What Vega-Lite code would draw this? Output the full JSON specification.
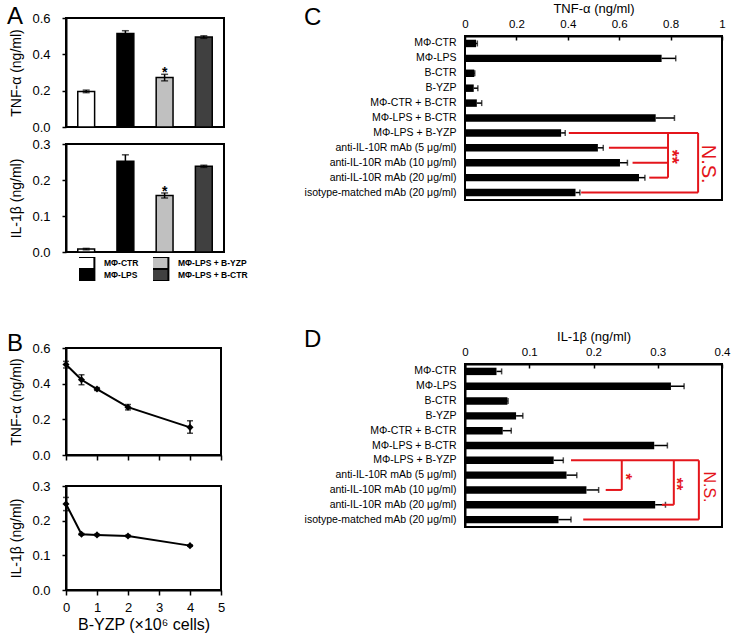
{
  "$schema": "https://vega.github.io/schema/vega-lite/v6.json",
  "background": "white",
  "padding": {"top": 2, "left": 5, "right": 5, "bottom": 5},
  "datasets": {
    "a_tnf": [
      {"group": "MΦ-CTR", "value": 0.196, "lo": 0.189, "hi": 0.203, "sig": ""},
      {"group": "MΦ-LPS", "value": 0.515, "lo": 0.5, "hi": 0.53, "sig": ""},
      {"group": "MΦ-LPS + B-YZP", "value": 0.272, "lo": 0.254, "hi": 0.29, "sig": "*"},
      {"group": "MΦ-LPS + B-CTR", "value": 0.495, "lo": 0.488, "hi": 0.502, "sig": ""}
    ],
    "a_il1b": [
      {"group": "MΦ-CTR", "value": 0.008, "lo": 0.006, "hi": 0.01, "sig": ""},
      {"group": "MΦ-LPS", "value": 0.252, "lo": 0.234, "hi": 0.27, "sig": ""},
      {"group": "MΦ-LPS + B-YZP", "value": 0.157, "lo": 0.15, "hi": 0.164, "sig": "*"},
      {"group": "MΦ-LPS + B-CTR", "value": 0.238, "lo": 0.235, "hi": 0.241, "sig": ""}
    ],
    "b_tnf": [
      {"cells": 0, "value": 0.507, "lo": 0.488, "hi": 0.525},
      {"cells": 0.5, "value": 0.422, "lo": 0.394, "hi": 0.45},
      {"cells": 1, "value": 0.37, "lo": 0.362, "hi": 0.378},
      {"cells": 2, "value": 0.268, "lo": 0.253, "hi": 0.283},
      {"cells": 4, "value": 0.155, "lo": 0.122, "hi": 0.192}
    ],
    "b_il1b": [
      {"cells": 0, "value": 0.248, "lo": 0.229, "hi": 0.267},
      {"cells": 0.5, "value": 0.161, "lo": 0.159, "hi": 0.163},
      {"cells": 1, "value": 0.159, "lo": 0.157, "hi": 0.161},
      {"cells": 2, "value": 0.156, "lo": 0.154, "hi": 0.158},
      {"cells": 4, "value": 0.128, "lo": 0.126, "hi": 0.13}
    ],
    "c_data": [
      {"cond": "MΦ-CTR", "value": 0.043, "hi": 0.048},
      {"cond": "MΦ-LPS", "value": 0.765, "hi": 0.82},
      {"cond": "B-CTR", "value": 0.036, "hi": 0.038},
      {"cond": "B-YZP", "value": 0.034, "hi": 0.05},
      {"cond": "MΦ-CTR + B-CTR", "value": 0.046, "hi": 0.065},
      {"cond": "MΦ-LPS + B-CTR", "value": 0.742, "hi": 0.815},
      {"cond": "MΦ-LPS + B-YZP", "value": 0.374, "hi": 0.39},
      {"cond": "anti-IL-10R mAb (5 μg/ml)", "value": 0.517, "hi": 0.538},
      {"cond": "anti-IL-10R mAb (10 μg/ml)", "value": 0.603, "hi": 0.632},
      {"cond": "anti-IL-10R mAb (20 μg/ml)", "value": 0.677, "hi": 0.7},
      {"cond": "isotype-matched mAb (20 μg/ml)", "value": 0.43, "hi": 0.447}
    ],
    "c_br": [
      {"x1": 0.404, "x2": 0.907, "r1": 7, "r2": 7},
      {"x1": 0.79, "x2": 0.79, "r1": 7, "r2": 10},
      {"x1": 0.56, "x2": 0.79, "r1": 8, "r2": 8},
      {"x1": 0.652, "x2": 0.79, "r1": 9, "r2": 9},
      {"x1": 0.717, "x2": 0.79, "r1": 10, "r2": 10},
      {"x1": 0.907, "x2": 0.907, "r1": 7, "r2": 11},
      {"x1": 0.452, "x2": 0.907, "r1": 11, "r2": 11}
    ],
    "c_txt": [
      {"label": "**", "x": 0.802, "r": 8.6},
      {"label": "N.S.", "x": 0.944, "r": 9.1}
    ],
    "d_data": [
      {"cond": "MΦ-CTR", "value": 0.049, "hi": 0.057},
      {"cond": "MΦ-LPS", "value": 0.3205, "hi": 0.341},
      {"cond": "B-CTR", "value": 0.066, "hi": 0.067},
      {"cond": "B-YZP", "value": 0.0795, "hi": 0.09},
      {"cond": "MΦ-CTR + B-CTR", "value": 0.0587, "hi": 0.072},
      {"cond": "MΦ-LPS + B-CTR", "value": 0.2945, "hi": 0.315},
      {"cond": "MΦ-LPS + B-YZP", "value": 0.138, "hi": 0.153},
      {"cond": "anti-IL-10R mAb (5 μg/ml)", "value": 0.158, "hi": 0.174},
      {"cond": "anti-IL-10R mAb (10 μg/ml)", "value": 0.189, "hi": 0.208},
      {"cond": "anti-IL-10R mAb (20 μg/ml)", "value": 0.296, "hi": 0.312},
      {"cond": "isotype-matched mAb (20 μg/ml)", "value": 0.1455, "hi": 0.165}
    ],
    "d_br": [
      {"x1": 0.165, "x2": 0.364, "r1": 7, "r2": 7},
      {"x1": 0.244, "x2": 0.244, "r1": 7, "r2": 9},
      {"x1": 0.219, "x2": 0.244, "r1": 9, "r2": 9},
      {"x1": 0.325, "x2": 0.325, "r1": 7, "r2": 10},
      {"x1": 0.3065, "x2": 0.325, "r1": 10, "r2": 10},
      {"x1": 0.364, "x2": 0.364, "r1": 7, "r2": 11},
      {"x1": 0.184, "x2": 0.364, "r1": 11, "r2": 11}
    ],
    "d_txt": [
      {"label": "*", "x": 0.249, "r": 8.1},
      {"label": "**", "x": 0.328, "r": 8.6},
      {"label": "N.S.", "x": 0.38, "r": 8.8}
    ]
  },
  "columns": 2,
  "align": "none",
  "spacing": 41,
  "concat": [
    {
      "spacing": 36,
      "vconcat": [
        {
          "spacing": 2,
          "resolve": {"scale": {"fill": "independent"}, "legend": {"fill": "independent"}},
          "vconcat": [
            {
              "width": 158, "height": 109,
              "title": {"text": "A", "dx": -3, "dy": 21},
              "data": {"name": "a_tnf"},
              "encoding": {"x": {"field": "group", "type": "nominal", "sort": ["MΦ-CTR", "MΦ-LPS", "MΦ-LPS + B-YZP", "MΦ-LPS + B-CTR"], "axis": null, "scale": {"paddingInner": 0.57, "paddingOuter": 0.3}}},
              "layer": [
                {"mark": {"type": "bar", "stroke": "black", "strokeWidth": 1.5},
                 "encoding": {
                   "y": {"field": "value", "type": "quantitative", "scale": {"domain": [0, 0.6]}, "axis": {"title": "TNF-α (ng/ml)", "values": [0, 0.2, 0.4, 0.6], "format": ".1f", "labelFontSize": 13, "titleFontSize": 14, "tickSize": 4, "labelPadding": 12, "titlePadding": 8}},
                   "fill": {"field": "group", "type": "nominal", "scale": {"domain": ["MΦ-CTR", "MΦ-LPS + B-YZP", "MΦ-LPS", "MΦ-LPS + B-CTR"], "range": ["white", "#c0c0c0", "black", "#404040"]}, "legend": null}
                 }},
                {"mark": {"type": "rule", "color": "black", "strokeWidth": 1.5}, "encoding": {"y": {"field": "lo", "type": "quantitative", "axis": {"title": "TNF-α (ng/ml)", "values": [0, 0.2, 0.4, 0.6], "format": ".1f", "labelFontSize": 13, "titleFontSize": 14, "tickSize": 4, "labelPadding": 12, "titlePadding": 8}}, "y2": {"field": "hi"}}},
                {"mark": {"type": "tick", "color": "black", "thickness": 1.5, "size": 7, "orient": "horizontal"}, "encoding": {"y": {"field": "hi", "type": "quantitative", "axis": {"title": "TNF-α (ng/ml)", "values": [0, 0.2, 0.4, 0.6], "format": ".1f", "labelFontSize": 13, "titleFontSize": 14, "tickSize": 4, "labelPadding": 12, "titlePadding": 8}}}},
                {"mark": {"type": "tick", "color": "black", "thickness": 1.5, "size": 7, "orient": "horizontal"}, "encoding": {"y": {"field": "lo", "type": "quantitative", "axis": {"title": "TNF-α (ng/ml)", "values": [0, 0.2, 0.4, 0.6], "format": ".1f", "labelFontSize": 13, "titleFontSize": 14, "tickSize": 4, "labelPadding": 12, "titlePadding": 8}}}},
                {"mark": {"type": "text", "fontSize": 14, "fontWeight": "bold", "baseline": "alphabetic", "dy": 3, "color": "black"}, "encoding": {"y": {"field": "hi", "type": "quantitative", "axis": {"title": "TNF-α (ng/ml)", "values": [0, 0.2, 0.4, 0.6], "format": ".1f", "labelFontSize": 13, "titleFontSize": 14, "tickSize": 4, "labelPadding": 12, "titlePadding": 8}}, "text": {"field": "sig"}}}
              ]
            },
            {
              "width": 158, "height": 108,
              "data": {"name": "a_il1b"},
              "encoding": {"x": {"field": "group", "type": "nominal", "sort": ["MΦ-CTR", "MΦ-LPS", "MΦ-LPS + B-YZP", "MΦ-LPS + B-CTR"], "axis": null, "scale": {"paddingInner": 0.57, "paddingOuter": 0.3}}},
              "layer": [
                {"mark": {"type": "bar", "stroke": "black", "strokeWidth": 1.5},
                 "encoding": {
                   "y": {"field": "value", "type": "quantitative", "scale": {"domain": [0, 0.3]}, "axis": {"title": "IL-1β (ng/ml)", "values": [0, 0.1, 0.2, 0.3], "format": ".1f", "labelFontSize": 13, "titleFontSize": 14, "tickSize": 4, "labelPadding": 12, "titlePadding": 8}},
                   "fill": {"field": "group", "type": "nominal", "scale": {"domain": ["MΦ-CTR", "MΦ-LPS + B-YZP", "MΦ-LPS", "MΦ-LPS + B-CTR"], "range": ["white", "#c0c0c0", "black", "#404040"]},
                     "legend": {"title": null, "orient": "bottom", "columns": 2, "symbolType": "M-1.4,-1H1.4V1H-1.4Z", "symbolSize": 144, "symbolStrokeColor": "black", "symbolStrokeWidth": 2, "labelFontSize": 8.5, "labelFontWeight": "bold", "labelColor": "black", "labelOffset": 11, "rowPadding": 0, "clipHeight": 12, "columnPadding": 14, "offset": -8, "padding": 13}}
                 }},
                {"mark": {"type": "rule", "color": "black", "strokeWidth": 1.5}, "encoding": {"y": {"field": "lo", "type": "quantitative", "axis": {"title": "IL-1β (ng/ml)", "values": [0, 0.1, 0.2, 0.3], "format": ".1f", "labelFontSize": 13, "titleFontSize": 14, "tickSize": 4, "labelPadding": 12, "titlePadding": 8}}, "y2": {"field": "hi"}}},
                {"mark": {"type": "tick", "color": "black", "thickness": 1.5, "size": 7, "orient": "horizontal"}, "encoding": {"y": {"field": "hi", "type": "quantitative", "axis": {"title": "IL-1β (ng/ml)", "values": [0, 0.1, 0.2, 0.3], "format": ".1f", "labelFontSize": 13, "titleFontSize": 14, "tickSize": 4, "labelPadding": 12, "titlePadding": 8}}}},
                {"mark": {"type": "tick", "color": "black", "thickness": 1.5, "size": 7, "orient": "horizontal"}, "encoding": {"y": {"field": "lo", "type": "quantitative", "axis": {"title": "IL-1β (ng/ml)", "values": [0, 0.1, 0.2, 0.3], "format": ".1f", "labelFontSize": 13, "titleFontSize": 14, "tickSize": 4, "labelPadding": 12, "titlePadding": 8}}}},
                {"mark": {"type": "text", "fontSize": 14, "fontWeight": "bold", "baseline": "alphabetic", "dy": 3, "color": "black"}, "encoding": {"y": {"field": "hi", "type": "quantitative", "axis": {"title": "IL-1β (ng/ml)", "values": [0, 0.1, 0.2, 0.3], "format": ".1f", "labelFontSize": 13, "titleFontSize": 14, "tickSize": 4, "labelPadding": 12, "titlePadding": 8}}, "text": {"field": "sig"}}}
              ]
            }
          ]
        },
        {
          "spacing": 16,
          "vconcat": [
            {
              "width": 155, "height": 107,
              "title": {"text": "B", "dx": -3, "dy": 18},
              "data": {"name": "b_tnf"},
              "encoding": {"x": {"field": "cells", "type": "quantitative", "scale": {"domain": [0, 5]}, "axis": {"values": [0, 1, 2, 3, 4, 5], "labels": false, "tickSize": 5, "title": null}}},
              "layer": [
                {"mark": {"type": "line", "color": "black", "strokeWidth": 2},
                 "encoding": {"y": {"field": "value", "type": "quantitative", "scale": {"domain": [0, 0.6]}, "axis": {"title": "TNF-α (ng/ml)", "values": [0, 0.2, 0.4, 0.6], "format": ".1f", "labelFontSize": 13, "titleFontSize": 14, "tickSize": 4, "labelPadding": 12, "titlePadding": 8}}}},
                {"mark": {"type": "rule", "color": "black", "strokeWidth": 1.5}, "encoding": {"y": {"field": "lo", "type": "quantitative", "axis": {"title": "TNF-α (ng/ml)", "values": [0, 0.2, 0.4, 0.6], "format": ".1f", "labelFontSize": 13, "titleFontSize": 14, "tickSize": 4, "labelPadding": 12, "titlePadding": 8}}, "y2": {"field": "hi"}}},
                {"mark": {"type": "tick", "color": "black", "thickness": 1.5, "size": 6, "orient": "horizontal"}, "encoding": {"y": {"field": "hi", "type": "quantitative", "axis": {"title": "TNF-α (ng/ml)", "values": [0, 0.2, 0.4, 0.6], "format": ".1f", "labelFontSize": 13, "titleFontSize": 14, "tickSize": 4, "labelPadding": 12, "titlePadding": 8}}}},
                {"mark": {"type": "tick", "color": "black", "thickness": 1.5, "size": 6, "orient": "horizontal"}, "encoding": {"y": {"field": "lo", "type": "quantitative", "axis": {"title": "TNF-α (ng/ml)", "values": [0, 0.2, 0.4, 0.6], "format": ".1f", "labelFontSize": 13, "titleFontSize": 14, "tickSize": 4, "labelPadding": 12, "titlePadding": 8}}}},
                {"mark": {"type": "point", "shape": "diamond", "filled": true, "color": "black", "size": 50, "opacity": 1}, "encoding": {"y": {"field": "value", "type": "quantitative", "axis": {"title": "TNF-α (ng/ml)", "values": [0, 0.2, 0.4, 0.6], "format": ".1f", "labelFontSize": 13, "titleFontSize": 14, "tickSize": 4, "labelPadding": 12, "titlePadding": 8}}}}
              ]
            },
            {
              "width": 155, "height": 104,
              "data": {"name": "b_il1b"},
              "encoding": {"x": {"field": "cells", "type": "quantitative", "scale": {"domain": [0, 5]}, "axis": {"values": [0, 1, 2, 3, 4, 5], "tickSize": 5, "labelFontSize": 13, "labelFlush": false, "labelPadding": 6, "title": "B-YZP (×10⁶ cells)", "titleFontSize": 16, "titlePadding": 2}}},
              "layer": [
                {"mark": {"type": "line", "color": "black", "strokeWidth": 2},
                 "encoding": {"y": {"field": "value", "type": "quantitative", "scale": {"domain": [0, 0.3]}, "axis": {"title": "IL-1β (ng/ml)", "values": [0, 0.1, 0.2, 0.3], "format": ".1f", "labelFontSize": 13, "titleFontSize": 14, "tickSize": 4, "labelPadding": 12, "titlePadding": 8}}}},
                {"mark": {"type": "rule", "color": "black", "strokeWidth": 1.5}, "encoding": {"y": {"field": "lo", "type": "quantitative", "axis": {"title": "IL-1β (ng/ml)", "values": [0, 0.1, 0.2, 0.3], "format": ".1f", "labelFontSize": 13, "titleFontSize": 14, "tickSize": 4, "labelPadding": 12, "titlePadding": 8}}, "y2": {"field": "hi"}}},
                {"mark": {"type": "tick", "color": "black", "thickness": 1.5, "size": 6, "orient": "horizontal"}, "encoding": {"y": {"field": "hi", "type": "quantitative", "axis": {"title": "IL-1β (ng/ml)", "values": [0, 0.1, 0.2, 0.3], "format": ".1f", "labelFontSize": 13, "titleFontSize": 14, "tickSize": 4, "labelPadding": 12, "titlePadding": 8}}}},
                {"mark": {"type": "tick", "color": "black", "thickness": 1.5, "size": 6, "orient": "horizontal"}, "encoding": {"y": {"field": "lo", "type": "quantitative", "axis": {"title": "IL-1β (ng/ml)", "values": [0, 0.1, 0.2, 0.3], "format": ".1f", "labelFontSize": 13, "titleFontSize": 14, "tickSize": 4, "labelPadding": 12, "titlePadding": 8}}}},
                {"mark": {"type": "point", "shape": "diamond", "filled": true, "color": "black", "size": 50, "opacity": 1}, "encoding": {"y": {"field": "value", "type": "quantitative", "axis": {"title": "IL-1β (ng/ml)", "values": [0, 0.1, 0.2, 0.3], "format": ".1f", "labelFontSize": 13, "titleFontSize": 14, "tickSize": 4, "labelPadding": 12, "titlePadding": 8}}}}
              ]
            }
          ]
        }
      ]
    },
    {
      "spacing": 126,
      "vconcat": [
        {
          "width": 257, "height": 182,
          "view": {"stroke": null},
          "title": {"text": "C", "dx": 0, "dy": 32},
          "layer": [
            {
              "data": {"name": "c_data"},
              "encoding": {"y": {"field": "cond", "type": "nominal", "sort": null, "scale": {"paddingInner": 0.5, "paddingOuter": 0.8537, "align": 0.8537}, "axis": {"title": null, "ticks": false, "domain": false, "labelFontSize": 10.5, "labelPadding": 9, "labelColor": "black", "labelLimit": 0}}},
              "layer": [
                {"mark": {"type": "bar", "color": "black"},
                 "encoding": {"x": {"field": "value", "type": "quantitative", "scale": {"domain": [0, 1]}, "axis": {"orient": "top", "offset": -18, "title": "TNF-α (ng/ml)", "values": [0, 0.2, 0.4, 0.6, 0.8, 1], "format": "~g", "labelFontSize": 11.5, "titleFontSize": 13, "tickSize": -4, "labelPadding": 11, "titlePadding": 3, "labelFlush": false}}}},
                {"mark": {"type": "rule", "color": "black", "strokeWidth": 1.5}, "encoding": {"x": {"field": "value", "type": "quantitative", "axis": {"orient": "top", "offset": -18, "title": "TNF-α (ng/ml)", "values": [0, 0.2, 0.4, 0.6, 0.8, 1], "format": "~g", "labelFontSize": 11.5, "titleFontSize": 13, "tickSize": -4, "labelPadding": 11, "titlePadding": 3, "labelFlush": false}}, "x2": {"field": "hi"}}},
                {"mark": {"type": "tick", "color": "black", "thickness": 1.5, "size": 6}, "encoding": {"x": {"field": "hi", "type": "quantitative", "axis": {"orient": "top", "offset": -18, "title": "TNF-α (ng/ml)", "values": [0, 0.2, 0.4, 0.6, 0.8, 1], "format": "~g", "labelFontSize": 11.5, "titleFontSize": 13, "tickSize": -4, "labelPadding": 11, "titlePadding": 3, "labelFlush": false}}}}
              ]
            },
            {
              "data": {"values": [{"panel": "C"}]},
              "mark": {"type": "rect", "filled": false, "color": "black", "strokeWidth": 2},
              "encoding": {
                "x": {"datum": 0, "type": "quantitative", "axis": {"orient": "top", "offset": -18, "title": "TNF-α (ng/ml)", "values": [0, 0.2, 0.4, 0.6, 0.8, 1], "format": "~g", "labelFontSize": 11.5, "titleFontSize": 13, "tickSize": -4, "labelPadding": 11, "titlePadding": 3, "labelFlush": false}},
                "x2": {"datum": 1},
                "y": {"datum": 0.5, "type": "quantitative", "scale": {"domain": [-0.7073, 11.5], "reverse": true, "nice": false, "zero": false}, "axis": null},
                "y2": {"datum": 11.5}
              }
            },
            {
              "data": {"name": "c_br"},
              "mark": {"type": "rule", "color": "#e4151b", "strokeWidth": 2},
              "encoding": {
                "x": {"field": "x1", "type": "quantitative", "axis": {"orient": "top", "offset": -18, "title": "TNF-α (ng/ml)", "values": [0, 0.2, 0.4, 0.6, 0.8, 1], "format": "~g", "labelFontSize": 11.5, "titleFontSize": 13, "tickSize": -4, "labelPadding": 11, "titlePadding": 3, "labelFlush": false}},
                "x2": {"field": "x2"},
                "y": {"field": "r1", "type": "quantitative", "scale": {"domain": [-0.7073, 11.5], "reverse": true, "nice": false, "zero": false}, "axis": null},
                "y2": {"field": "r2"}
              }
            },
            {
              "data": {"name": "c_txt"},
              "transform": [{"filter": "datum.label == '**'"}],
              "mark": {"type": "text", "angle": 90, "color": "#e4151b", "fontSize": 18, "fontWeight": "bold", "align": "center", "baseline": "middle"},
              "encoding": {
                "x": {"field": "x", "type": "quantitative", "axis": {"orient": "top", "offset": -18, "title": "TNF-α (ng/ml)", "values": [0, 0.2, 0.4, 0.6, 0.8, 1], "format": "~g", "labelFontSize": 11.5, "titleFontSize": 13, "tickSize": -4, "labelPadding": 11, "titlePadding": 3, "labelFlush": false}},
                "y": {"field": "r", "type": "quantitative", "scale": {"domain": [-0.7073, 11.5], "reverse": true, "nice": false, "zero": false}, "axis": null},
                "text": {"field": "label"}
              }
            },
            {
              "data": {"name": "c_txt"},
              "transform": [{"filter": "datum.label == 'N.S.'"}],
              "mark": {"type": "text", "angle": 90, "color": "#e4151b", "fontSize": 20, "align": "center", "baseline": "middle"},
              "encoding": {
                "x": {"field": "x", "type": "quantitative", "axis": {"orient": "top", "offset": -18, "title": "TNF-α (ng/ml)", "values": [0, 0.2, 0.4, 0.6, 0.8, 1], "format": "~g", "labelFontSize": 11.5, "titleFontSize": 13, "tickSize": -4, "labelPadding": 11, "titlePadding": 3, "labelFlush": false}},
                "y": {"field": "r", "type": "quantitative", "scale": {"domain": [-0.7073, 11.5], "reverse": true, "nice": false, "zero": false}, "axis": null},
                "text": {"field": "label"}
              }
            }
          ],
          "resolve": {"scale": {"y": "independent"}}
        },
        {
          "width": 257, "height": 163,
          "title": {"text": "D", "dx": 0, "dy": 26},
          "layer": [
            {
              "data": {"name": "d_data"},
              "encoding": {"y": {"field": "cond", "type": "nominal", "sort": null, "scale": {"paddingInner": 0.5, "paddingOuter": 0.25}, "axis": {"title": null, "ticks": false, "labelFontSize": 10.5, "labelPadding": 9, "labelColor": "black", "labelLimit": 0}}},
              "layer": [
                {"mark": {"type": "bar", "color": "black"},
                 "encoding": {"x": {"field": "value", "type": "quantitative", "scale": {"domain": [0, 0.4]}, "axis": {"orient": "top", "title": "IL-1β (ng/ml)", "values": [0, 0.1, 0.2, 0.3, 0.4], "format": "~g", "labelFontSize": 11.5, "titleFontSize": 13, "tickSize": -4, "labelPadding": 11, "titlePadding": 3, "labelFlush": false}}}},
                {"mark": {"type": "rule", "color": "black", "strokeWidth": 1.5}, "encoding": {"x": {"field": "value", "type": "quantitative", "axis": {"orient": "top", "title": "IL-1β (ng/ml)", "values": [0, 0.1, 0.2, 0.3, 0.4], "format": "~g", "labelFontSize": 11.5, "titleFontSize": 13, "tickSize": -4, "labelPadding": 11, "titlePadding": 3, "labelFlush": false}}, "x2": {"field": "hi"}}},
                {"mark": {"type": "tick", "color": "black", "thickness": 1.5, "size": 6}, "encoding": {"x": {"field": "hi", "type": "quantitative", "axis": {"orient": "top", "title": "IL-1β (ng/ml)", "values": [0, 0.1, 0.2, 0.3, 0.4], "format": "~g", "labelFontSize": 11.5, "titleFontSize": 13, "tickSize": -4, "labelPadding": 11, "titlePadding": 3, "labelFlush": false}}}}
              ]
            },
            {
              "data": {"name": "d_br"},
              "mark": {"type": "rule", "color": "#e4151b", "strokeWidth": 2},
              "encoding": {
                "x": {"field": "x1", "type": "quantitative", "axis": {"orient": "top", "title": "IL-1β (ng/ml)", "values": [0, 0.1, 0.2, 0.3, 0.4], "format": "~g", "labelFontSize": 11.5, "titleFontSize": 13, "tickSize": -4, "labelPadding": 11, "titlePadding": 3, "labelFlush": false}},
                "x2": {"field": "x2"},
                "y": {"field": "r1", "type": "quantitative", "scale": {"domain": [0.5, 11.5], "reverse": true, "nice": false, "zero": false}, "axis": null},
                "y2": {"field": "r2"}
              }
            },
            {
              "data": {"name": "d_txt"},
              "transform": [{"filter": "datum.label != 'N.S.'"}],
              "mark": {"type": "text", "angle": 90, "color": "#e4151b", "fontSize": 16, "fontWeight": "bold", "align": "center", "baseline": "middle"},
              "encoding": {
                "x": {"field": "x", "type": "quantitative", "axis": {"orient": "top", "title": "IL-1β (ng/ml)", "values": [0, 0.1, 0.2, 0.3, 0.4], "format": "~g", "labelFontSize": 11.5, "titleFontSize": 13, "tickSize": -4, "labelPadding": 11, "titlePadding": 3, "labelFlush": false}},
                "y": {"field": "r", "type": "quantitative", "scale": {"domain": [0.5, 11.5], "reverse": true, "nice": false, "zero": false}, "axis": null},
                "text": {"field": "label"}
              }
            },
            {
              "data": {"name": "d_txt"},
              "transform": [{"filter": "datum.label == 'N.S.'"}],
              "mark": {"type": "text", "angle": 90, "color": "#e4151b", "fontSize": 16, "align": "center", "baseline": "middle"},
              "encoding": {
                "x": {"field": "x", "type": "quantitative", "axis": {"orient": "top", "title": "IL-1β (ng/ml)", "values": [0, 0.1, 0.2, 0.3, 0.4], "format": "~g", "labelFontSize": 11.5, "titleFontSize": 13, "tickSize": -4, "labelPadding": 11, "titlePadding": 3, "labelFlush": false}},
                "y": {"field": "r", "type": "quantitative", "scale": {"domain": [0.5, 11.5], "reverse": true, "nice": false, "zero": false}, "axis": null},
                "text": {"field": "label"}
              }
            }
          ],
          "resolve": {"scale": {"y": "independent"}}
        }
      ]
    }
  ],
  "config": {
    "font": "Liberation Sans",
    "view": {"stroke": "black", "strokeWidth": 2},
    "axis": {"grid": false, "domainColor": "black", "domainWidth": 2, "tickColor": "black", "tickWidth": 1.5, "labelColor": "black", "titleColor": "black", "titleFontWeight": "normal", "labelFont": "Liberation Sans", "titleFont": "Liberation Sans"},
    "title": {"font": "Liberation Sans", "fontWeight": "normal", "fontSize": 24, "anchor": "start", "frame": "bounds", "color": "black", "offset": 0},
    "legend": {"labelFont": "Liberation Sans"}
  }
}
